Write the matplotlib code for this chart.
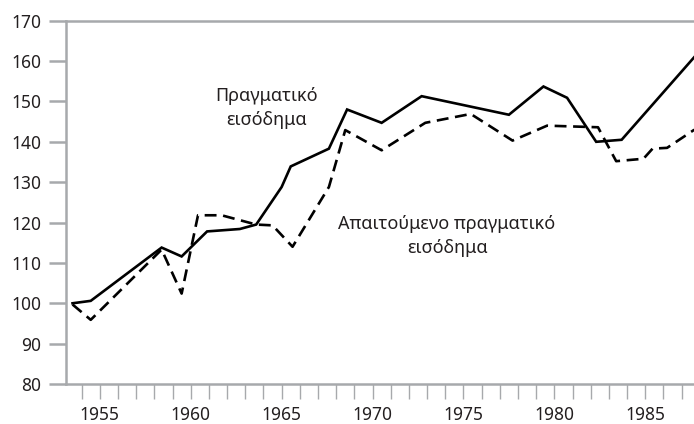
import matplotlib
matplotlib.use("Agg")
import matplotlib.pyplot as plt
from matplotlib.ticker import MultipleLocator

# ---- data ----
actual_years = [1953.5, 1954.5, 1958.4, 1959.5, 1960.9, 1962.7, 1963.6, 1965.0,
                1965.5, 1967.6, 1968.6, 1970.5, 1972.7, 1977.5, 1979.4, 1980.7,
                1982.3, 1983.7, 1987.7]
actual_income = [100.0, 100.6, 113.8, 111.6, 117.8, 118.4, 119.5, 128.8,
                 133.9, 138.3, 148.0, 144.7, 151.3, 146.7, 153.7, 150.9,
                 140.0, 140.5, 161.0]

required_years = [1953.5, 1954.5, 1958.4, 1959.5, 1960.4, 1961.7, 1963.6, 1964.5,
                  1965.6, 1967.6, 1968.5, 1970.5, 1972.9, 1975.4, 1977.7, 1979.6,
                  1982.4, 1983.4, 1984.9, 1985.4, 1986.2, 1987.7]
required_income = [99.7, 95.9, 113.3, 102.4, 121.8, 121.8, 119.5, 119.3,
                   114.0, 128.8, 142.9, 137.9, 144.7, 146.9, 140.3, 144.0,
                   143.6, 135.2, 135.8, 138.3, 138.5, 143.0]

label_actual = "Πραγματικό\nεισόδημα"
label_required = "Απαιτούμενο πραγματικό\nεισόδημα"

plt.rcParams['font.family'] = ['Noto Sans', 'DejaVu Sans']

axis_grey = '#a7a9ac'
text_col = '#231f20'

fig = plt.figure(figsize=(6.94, 4.24), dpi=100)
ax = fig.add_axes([0.0951, 0.0943, 0.9049, 0.8569])

ax.plot(actual_years, actual_income, color='black', lw=1.9,
        solid_joinstyle='miter', clip_on=False)
ax.plot(required_years, required_income, color='black', lw=1.9,
        linestyle=(0, (4.5, 2.5)), clip_on=False)

ax.set_xlim(1953.14, 1987.68)
ax.set_ylim(80, 170)

ax.xaxis.set_major_locator(MultipleLocator(5))
ax.xaxis.set_minor_locator(MultipleLocator(1))
ax.yaxis.set_major_locator(MultipleLocator(10))

for s in ['left', 'bottom', 'top']:
    ax.spines[s].set_color(axis_grey)
    ax.spines[s].set_linewidth(1.8)
ax.spines['right'].set_visible(False)

ax.tick_params(axis='x', which='both', direction='out', length=11,
               width=1.0, color=axis_grey, labelsize=12.5,
               labelcolor=text_col, pad=5)
ax.tick_params(axis='y', which='major', direction='out', length=12,
               width=1.8, color=axis_grey, labelsize=12.5,
               labelcolor=text_col, pad=6)

ax.text(1964.15, 148.3, label_actual, ha='center', va='center',
        fontsize=13, color=text_col, linespacing=1.45)
ax.text(1974.1, 116.6, label_required, ha='center', va='center',
        fontsize=13, color=text_col, linespacing=1.45)

fig.savefig('out.png', dpi=100)
